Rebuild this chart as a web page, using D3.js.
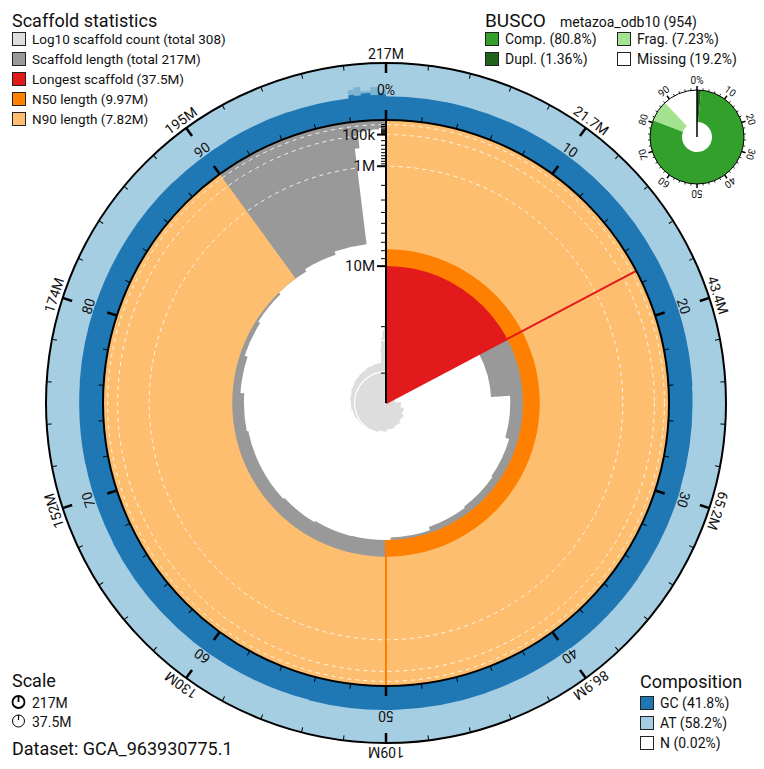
<!DOCTYPE html>
<html>
<head>
<meta charset="utf-8">
<script src="https://cdn.jsdelivr.net/npm/d3@7"></script>
<style>
  body { margin: 0; background: #fff; }
  text { font-family: Roboto, "Noto Sans", sans-serif; fill: #111; }
</style>
</head>
<body>
<svg id="svg1" width="764" height="769"></svg>
<script>
// Data ----------------------------------------
var totalMb = 217.2;
var totalCount = 308;
var longestMb = 37.5;
var n50Mb = 9.97;
var n90Mb = 7.82;

// scaffold lengths (Mb), longest first
var scaffoldMb = [37.5, 14.8, 11.8, 11.2, 11.0, 10.8, 10.3, 9.97, 9.9, 9.7,
                  9.5, 9.5, 9.3, 8.8, 8.4, 8.1, 7.82, 7.5, 7.1];
// GC % of those scaffolds
var gcChrom = [41.6, 42.0, 41.3, 41.8, 42.2, 41.5, 41.9, 42.1, 41.4, 41.7,
               42.0, 41.5, 41.8, 42.2, 41.6, 41.9, 41.3, 42.0, 41.7];
// small scaffolds at the end: start (% of assembly), bin length (kb), cumulative count, GC %
var tailPct = [98.06, 98.35, 98.7, 99.2, 99.6, 99.85];
var tailKb = [340, 55, 45, 40, 30, 20];
var tailCount = [25, 60, 120, 200, 260, 300];
var gcTail = [47, 45, 48, 44, 47, 45];
var gcTailMax = [56, 60, 52, 58, 50, 55];

var lengthScaleMb = [0.01, 0.1, 1];      // dashed scale lines
var countScaleLines = [10, 100];

var statNames = ["Log10 scaffold count (total 308)", "Scaffold length (total 217M)",
                 "Longest scaffold (37.5M)", "N50 length (9.97M)", "N90 length (7.82M)"];
var statColors = ["#dddddd", "#999999", "#e31a1c", "#ff7f00", "#fdbf6f"];

var buscoNames = ["Comp. (80.8%)", "Frag. (7.23%)", "Dupl. (1.36%)", "Missing (19.2%)"];
var buscoColors = ["#33a02c", "#a3e28f", "#20641c", "#ffffff"];
var buscoComp = 80.8, buscoDupl = 1.36, buscoFrag = 7.23;

var compNames = ["GC (41.8%)", "AT (58.2%)", "N (0.02%)"];
var compColors = ["#1f78b4", "#a6cee3", "#ffffff"];

// Geometry ----------------------------------------
var cx = 386, cy = 403;
var radius = 283, outerRadius = 340;
var compWidth = outerRadius - radius;

var svg = d3.select("#svg1");
var g = svg.append("g").attr("transform", "translate(" + cx + "," + cy + ")");

var angle = d3.scaleLinear().domain([0, 100]).range([0, 2 * Math.PI]);
var rLen = d3.scaleSqrt().domain([0, longestMb]).range([radius, 0]);
var rCount = d3.scaleLog().domain([1, 1000]).range([0, radius / 3]);
var rGc = d3.scaleLinear().domain([0, 100]).range([radius, outerRadius]);
var arc = d3.arc();

// build segments from the arrays
var segs = [];
var cum = 0;
scaffoldMb.forEach(function(len, i) {
  var s = cum / totalMb * 100;
  cum += len;
  segs.push({start: s, end: cum / totalMb * 100, len: len, count: i + 1, gc: gcChrom[i], gcMax: gcChrom[i]});
});
segs[segs.length - 1].end = tailPct[0];
tailPct.forEach(function(p, i) {
  segs.push({start: p, end: i < tailPct.length - 1 ? tailPct[i + 1] : 100,
             len: tailKb[i] / 1000, count: tailCount[i], gc: gcTail[i], gcMax: gcTailMax[i]});
});

function sector(a0, a1, r0, r1) {
  return arc({startAngle: angle(a0), endAngle: angle(a1), innerRadius: r0, outerRadius: r1});
}
function pa(pct) { return angle(pct) - Math.PI / 2; }

// stepped band between a fixed radius and a per-segment radius
function stepBand(list, fixedR, rFn) {
  var p = d3.path();
  var first = list[0], last = list[list.length - 1];
  p.moveTo(fixedR * Math.cos(pa(first.start)), fixedR * Math.sin(pa(first.start)));
  list.forEach(function(d) {
    var r = rFn(d);
    p.lineTo(r * Math.cos(pa(d.start)), r * Math.sin(pa(d.start)));
    p.arc(0, 0, r, pa(d.start), pa(d.end), false);
  });
  p.lineTo(fixedR * Math.cos(pa(last.end)), fixedR * Math.sin(pa(last.end)));
  if (fixedR > 0) p.arc(0, 0, fixedR, pa(last.end), pa(first.start), true);
  p.closePath();
  return p.toString();
}

// Composition ring ----------------------------------------
g.append("path").attr("d", sector(0, 100, radius, outerRadius)).attr("fill", "#a6cee3");
var tailSegs = segs.filter(function(d) { return d.start >= tailPct[0] - 0.01; });
g.append("path")
  .attr("d", stepBand(tailSegs, radius, function(d) { return rGc(d.gcMax); }))
  .attr("fill", "#1f78b4").attr("fill-opacity", 0.3);
g.append("path")
  .attr("d", stepBand(segs, radius, function(d) { return rGc(d.gc); }))
  .attr("fill", "#1f78b4");

// Count spiral ----------------------------------------
g.append("path")
  .attr("d", stepBand(segs, 0, function(d) { return rCount(d.count); }))
  .attr("fill", "#dddddd");
countScaleLines.forEach(function(c) {
  g.append("circle").attr("r", rCount(c)).attr("fill", "none")
    .attr("stroke", "#fff").attr("stroke-width", 1.2);
});

// Scaffold lengths ----------------------------------------
g.append("path")
  .attr("d", stepBand(segs.slice(1), radius, function(d) { return rLen(d.len); }))
  .attr("fill", "#999999");

var longestPct = longestMb / totalMb * 100;
g.append("path").attr("d", sector(0, longestPct, 0, radius)).attr("fill", "#e31a1c");
g.append("path").attr("d", sector(0, 50, rLen(n50Mb), radius)).attr("fill", "#ff7f00");
g.append("path").attr("d", sector(0, 90, rLen(n90Mb), radius)).attr("fill", "#fdbf6f");

// dashed scale lines
lengthScaleMb.forEach(function(v) {
  g.append("circle").attr("r", rLen(v)).attr("fill", "none")
    .attr("stroke", "#fff").attr("stroke-width", 1).attr("stroke-opacity", 0.85)
    .attr("stroke-dasharray", "4,4");
});

// longest / N50 lines
function radial(pct, r0, r1, color) {
  var a = angle(pct);
  g.append("line")
    .attr("x1", r0 * Math.sin(a)).attr("y1", -r0 * Math.cos(a))
    .attr("x2", r1 * Math.sin(a)).attr("y2", -r1 * Math.cos(a))
    .attr("stroke", color).attr("stroke-width", 2);
}
radial(longestPct, rLen(longestMb), radius, "#e31a1c");
radial(50, rLen(n50Mb), radius, "#ff7f00");

// Radial axis ----------------------------------------
g.append("line").attr("x1", 0).attr("y1", 0).attr("x2", 0).attr("y2", -radius)
  .attr("stroke", "#000").attr("stroke-width", 2);
var axisTicks = [];
[-2, -1, 0, 1].forEach(function(k) {
  for (var m = 1; m <= 9; m++) {
    var v = m * Math.pow(10, k);
    if (v <= longestMb) axisTicks.push({v: v, major: m === 1 && k >= -1});
  }
});
g.selectAll(".atick").data(axisTicks).enter().append("line")
  .attr("x1", 0).attr("x2", function(d) { return d.major ? -9 : -5; })
  .attr("y1", function(d) { return -rLen(d.v); })
  .attr("y2", function(d) { return -rLen(d.v); })
  .attr("stroke", "#000").attr("stroke-width", function(d) { return d.major ? 2 : 1; });
var fmtLen = function(v) { return v < 1 ? (v * 1000) + "k" : v + "M"; };
g.selectAll(".alabel").data(axisTicks.filter(function(d) { return d.major; })).enter()
  .append("text")
  .attr("x", -11).attr("y", function(d) { return -rLen(d.v); })
  .attr("dy", "0.35em").attr("text-anchor", "end").attr("font-size", 15)
  .text(function(d) { return fmtLen(d.v); });

// Circles, ticks and labels ----------------------------------------
g.append("circle").attr("r", radius).attr("fill", "none").attr("stroke", "#000").attr("stroke-width", 2);
g.append("circle").attr("r", outerRadius).attr("fill", "none").attr("stroke", "#000").attr("stroke-width", 2);

var pctTicks = d3.range(0, 100, 2);
g.selectAll(".itick").data(pctTicks).enter().append("line")
  .attr("transform", function(d) { return "rotate(" + d * 3.6 + ")"; })
  .attr("y1", -radius).attr("y2", function(d) { return d % 10 === 0 ? -radius - 10 : -radius - 5; })
  .attr("stroke", "#000").attr("stroke-width", function(d) { return d % 10 === 0 ? 2.5 : 1; });
g.selectAll(".otick").data(pctTicks).enter().append("line")
  .attr("transform", function(d) { return "rotate(" + d * 3.6 + ")"; })
  .attr("y1", -outerRadius).attr("y2", function(d) { return d % 10 === 0 ? -outerRadius + 10 : -outerRadius + 5; })
  .attr("stroke", "#000").attr("stroke-width", function(d) { return d % 10 === 0 ? 2.5 : 1; });

var decades = d3.range(0, 100, 10);
g.selectAll(".plabel").data(decades).enter().append("text")
  .attr("transform", function(d) { return "rotate(" + d * 3.6 + ")"; })
  .attr("y", -radius - 25).attr("text-anchor", "middle").attr("font-size", 14)
  .text(function(d) { return d === 0 ? "0%" : d; });
var fmtMb = d3.format(".3s");
g.selectAll(".olabel").data(decades).enter().append("text")
  .attr("transform", function(d) { return "rotate(" + d * 3.6 + ")"; })
  .attr("y", -outerRadius - 4).attr("text-anchor", "middle").attr("font-size", 14)
  .text(function(d) { return fmtMb((d === 0 ? 100 : d) / 100 * totalMb * 1e6); });

// BUSCO donut ----------------------------------------
var bg = svg.append("g").attr("transform", "translate(697,137)");
var bR = 47, bInner = 15;
var buscoSegs = [
  {a0: 0, a1: buscoDupl, c: buscoColors[2]},
  {a0: buscoDupl, a1: buscoComp, c: buscoColors[0]},
  {a0: buscoComp, a1: buscoComp + buscoFrag, c: buscoColors[1]}
];
bg.selectAll(".bseg").data(buscoSegs).enter().append("path")
  .attr("d", function(d) { return arc({startAngle: angle(d.a0), endAngle: angle(d.a1), innerRadius: bInner, outerRadius: bR}); })
  .attr("fill", function(d) { return d.c; });
bg.append("circle").attr("r", bR).attr("fill", "none").attr("stroke", "#000").attr("stroke-width", 1);
bg.append("line").attr("y1", 0).attr("y2", -bR).attr("stroke", "#000").attr("stroke-width", 1.5);
bg.selectAll(".btick").data(pctTicks).enter().append("line")
  .attr("transform", function(d) { return "rotate(" + d * 3.6 + ")"; })
  .attr("y1", -bR).attr("y2", function(d) { return d % 10 === 0 ? -bR - 4 : -bR - 2; })
  .attr("stroke", "#000").attr("stroke-width", function(d) { return d % 10 === 0 ? 1.5 : 0.8; });
bg.selectAll(".blabel").data(decades).enter().append("text")
  .attr("transform", function(d) { return "rotate(" + d * 3.6 + ")"; })
  .attr("y", -bR - 6).attr("text-anchor", "middle").attr("font-size", 10)
  .text(function(d) { return d === 0 ? "0%" : d; });

// Legends ----------------------------------------
function legendBox(x, y, color) {
  svg.append("rect").attr("x", x).attr("y", y).attr("width", 13).attr("height", 13)
    .attr("fill", color).attr("stroke", "#222").attr("stroke-width", 1);
}
function label(x, y, txt, size) {
  svg.append("text").attr("x", x).attr("y", y).attr("font-size", size).text(txt);
}

label(12, 27, "Scaffold statistics", 18);
statNames.forEach(function(n, i) {
  legendBox(12.5, 32.5 + i * 20, statColors[i]);
  label(32, 44 + i * 20, n, 13.5);
});

label(485, 27, "BUSCO", 19);
label(560, 27, "metazoa_odb10 (954)", 14);
buscoNames.forEach(function(n, i) {
  var col = i % 2, row = Math.floor(i / 2);
  legendBox(485.5 + col * 132, 32.5 + row * 20, buscoColors[i]);
  label(505 + col * 132, 44 + row * 20, n, 14);
});

label(640, 688, "Composition", 18);
compNames.forEach(function(n, i) {
  legendBox(640.5, 696.5 + i * 20, compColors[i]);
  label(660, 708 + i * 20, n, 14);
});

label(12, 687, "Scale", 18);
svg.append("circle").attr("cx", 18.5).attr("cy", 702).attr("r", 6).attr("fill", "none").attr("stroke", "#000").attr("stroke-width", 1.8);
svg.append("line").attr("x1", 18.5).attr("x2", 18.5).attr("y1", 696).attr("y2", 702).attr("stroke", "#000").attr("stroke-width", 1.8);
svg.append("circle").attr("cx", 18.5).attr("cy", 721).attr("r", 6).attr("fill", "none").attr("stroke", "#000").attr("stroke-width", 1);
svg.append("line").attr("x1", 18.5).attr("x2", 18.5).attr("y1", 715).attr("y2", 720).attr("stroke", "#000").attr("stroke-width", 1.2);
label(32, 708, fmtMb(totalMb * 1e6), 14);
label(32, 727, longestMb + "M", 14);
label(12, 755, "Dataset: GCA_963930775.1", 18);
</script>
</body>
</html>
